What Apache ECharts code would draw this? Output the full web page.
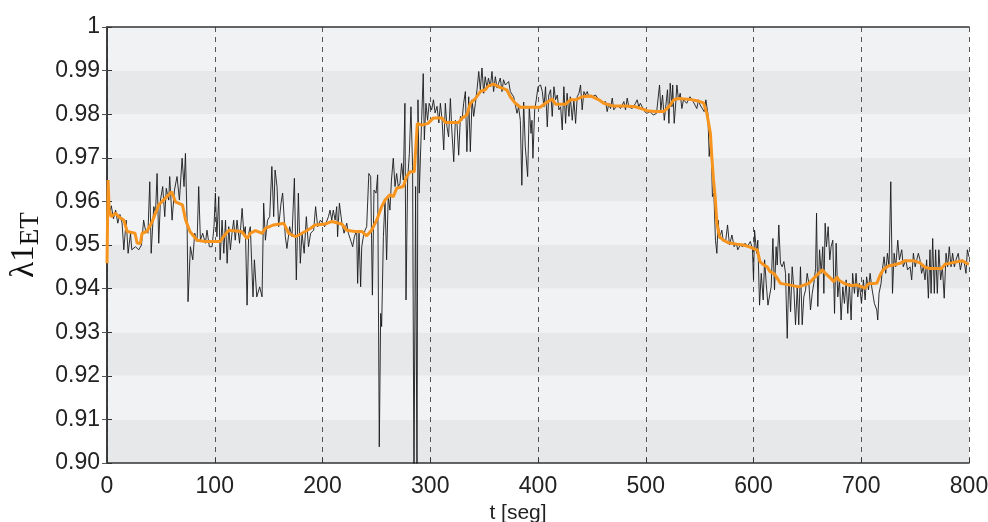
<!DOCTYPE html>
<html>
<head>
<meta charset="utf-8">
<script src="https://cdn.jsdelivr.net/npm/echarts@6/dist/echarts.min.js"></script>
<style>
  html, body { margin: 0; padding: 0; background: #fff; }
  #chart { width: 988px; height: 522px; }
</style>
</head>
<body>
<div id="chart"></div>
<script>
// x axis ticks (t [seg])
var xTicks = [0, 100, 200, 300, 400, 500, 600, 700, 800];

// raw signal per 100 s block: [t, value]
var raw000 = [[0,0.947],[1,0.964],[2,0.957],[4,0.959],[6,0.956],[8,0.958],[10,0.955],[12,0.957],[14,0.955],[15.6,0.9489],[17.8,0.9557],[19.6,0.9481],[21.8,0.9527],[23,0.9489],[26.4,0.9496],[29.5,0.9489],[32,0.95],[34,0.9557],[35.7,0.9534],[38,0.9527],[39.7,0.9645],[41,0.9481],[43.4,0.9588],[45,0.9573],[46.5,0.9664],[48,0.9504],[49.6,0.9603],[51.7,0.9634],[53.6,0.9565],[55,0.963],[57.3,0.9603],[58.2,0.9657],[60.4,0.9557],[62.6,0.9626],[65,0.9657],[67.2,0.9603],[69.7,0.9699],[71.5,0.9634],[72.8,0.971],[74.3,0.9557],[75.2,0.937],[77.4,0.9496],[79.6,0.9466],[81.4,0.9527],[83.6,0.9508],[85.1,0.9634],[86.7,0.9511],[88.8,0.9527],[91.3,0.9504],[92.8,0.9534],[95,0.9496],[97.5,0.9496],[99.3,0.9542]];
var raw100 = [[100.6,0.9619],[102,0.9519],[103.7,0.9611],[105,0.9466],[106.8,0.9557],[108.4,0.9481],[110,0.9557],[111.5,0.9458],[113,0.9542],[114.5,0.9489],[116,0.9527],[117.6,0.9557],[119,0.9511],[120.7,0.9557],[123,0.9504],[125.4,0.9584],[127,0.9527],[128.4,0.9542],[130,0.9362],[131.5,0.9527],[133,0.9542],[135.5,0.9381],[136.8,0.9466],[139,0.9381],[141.7,0.9404],[143.9,0.9381],[145.4,0.9596],[147,0.9511],[149,0.9557],[151,0.9565],[153,0.968],[154.7,0.9565],[156,0.9672],[157.8,0.9634],[159.3,0.9542],[161.5,0.9596],[163,0.9619],[165.5,0.9519],[167,0.9492],[169.5,0.9542],[171.7,0.9519],[173.9,0.9653],[175.7,0.942],[177.6,0.9619],[179.4,0.9458],[181,0.9527],[183,0.9481],[185,0.9565],[187,0.9496],[189,0.9527],[191.8,0.9534],[193.6,0.9588],[195.5,0.9542],[198,0.9557]];
var raw200 = [[200.4,0.955],[202,0.9542],[205.5,0.9565],[207,0.958],[208.6,0.9557],[210,0.958],[211.7,0.9557],[213.2,0.9588],[214,0.9519],[215.7,0.9596],[218,0.955],[220,0.9527],[222.5,0.955],[224,0.9527],[226.5,0.9508],[228,0.9496],[229.6,0.9519],[231.7,0.9534],[232.6,0.9412],[233.9,0.9527],[235.4,0.9404],[236.4,0.9496],[237.9,0.9519],[239.5,0.9534],[241,0.9542],[243,0.9664],[244.7,0.9657],[246.3,0.9385],[247.8,0.9626],[249.7,0.9619],[251.2,0.9661],[252.7,0.9037],[254,0.9343],[254.9,0.9313],[256.5,0.9519],[258,0.9603],[259.5,0.9466],[261,0.9611],[262.6,0.958],[264,0.9649],[265.7,0.9699],[267.3,0.9634],[268.8,0.9664],[270.3,0.9634],[271.9,0.9641],[273.4,0.9687],[275,0.9649],[276.5,0.9825],[277.5,0.9374],[279,0.9649],[280.6,0.971],[282.1,0.9817],[283.6,0.968],[284.9,0.8947],[286.4,0.9634],[287.7,0.8947],[288.6,0.9833],[289.8,0.9619],[292,0.9786],[293.5,0.9893],[294.5,0.9741],[296,0.9825],[297.5,0.9786],[299,0.9825]];
var raw300 = [[301.3,0.981],[303,0.9833],[304.5,0.9803],[306.3,0.9818],[308,0.978],[309.4,0.9825],[311,0.9786],[312.5,0.9718],[314,0.9825],[315.5,0.9772],[317,0.9748],[318.7,0.9836],[320,0.9764],[321.8,0.9691],[323.3,0.9786],[324.8,0.9779],[326.4,0.9706],[328,0.9795],[329.5,0.9786],[331,0.9825],[332.6,0.9852],[334,0.9714],[335.7,0.984],[337.2,0.9714],[338.8,0.9833],[340.3,0.9795],[341.9,0.9825],[343.4,0.9856],[345,0.9898],[346.5,0.9856],[348,0.9906],[349.6,0.9848],[351,0.9886],[352.7,0.986],[354,0.9883],[355.8,0.9863],[357.3,0.9898],[358.8,0.9852],[360.4,0.9886],[362,0.986],[363.5,0.9871],[365,0.9883],[366.6,0.9852],[368,0.9879],[369.7,0.9867],[371,0.9863],[372.8,0.9875],[374.3,0.9852],[375.8,0.9856],[377.4,0.984],[379,0.9821],[380.5,0.9802],[382,0.9817],[383.6,0.9786],[385,0.9637],[386.7,0.9828],[388.2,0.9725],[390.4,0.9657],[391.9,0.9817],[393.5,0.9756],[394.4,0.9786],[395.3,0.9699],[396.9,0.981],[398.4,0.9833]];
var raw400 = [[400,0.9863],[402.4,0.9867],[404,0.9852],[405.5,0.9817],[407,0.9863],[408.6,0.9771],[410,0.9844],[411.7,0.9856],[413.2,0.9795],[414.8,0.9863],[416.3,0.9833],[417.9,0.9844],[419.4,0.981],[421,0.9817],[422.5,0.9764],[424,0.9863],[425.6,0.9779],[427,0.9848],[428.7,0.9795],[430,0.984],[431.8,0.9786],[433.3,0.9833],[434.9,0.9779],[436.4,0.984],[438,0.9848],[439.5,0.9867],[441,0.981],[442.6,0.9852],[444,0.9844],[445.7,0.9852],[447.2,0.984],[448.8,0.9844],[450.3,0.984],[451.9,0.9837],[453.4,0.9844],[456.5,0.9833],[459.6,0.9825],[462.7,0.9829],[464.2,0.9806],[465.8,0.9825],[467.3,0.9813],[468.9,0.9837],[470.4,0.981],[473.5,0.9821],[476.6,0.9813],[479.7,0.9829],[481.2,0.981],[482.8,0.9837],[484.3,0.9817],[487.4,0.9813],[490.5,0.9825],[492,0.9833],[493.6,0.9817],[495,0.9825],[496.7,0.9817],[499,0.9806]];
var raw500 = [[501,0.9802],[504,0.9806],[507,0.9798],[510,0.9802],[512.8,0.9867],[514,0.981],[515.6,0.9844],[517.2,0.9786],[518.7,0.9821],[520.2,0.9856],[521.5,0.9779],[522.7,0.9871],[524.3,0.9817],[525,0.9867],[526.4,0.9779],[527.7,0.9821],[528.9,0.9867],[530.4,0.9833],[532,0.9848],[533.5,0.9813],[535,0.9833],[538,0.9825],[541,0.984],[544,0.9829],[547.4,0.9813],[549,0.9833],[550.5,0.9821],[552,0.9825],[554.2,0.9806],[555.8,0.9833],[557.6,0.9802],[558.9,0.9703],[560.4,0.9752],[561.9,0.9611],[563.2,0.9619],[564.7,0.9511],[566,0.9481],[567.2,0.9557],[568.4,0.9515],[570.6,0.9534],[572,0.9508],[574.3,0.9511],[575.9,0.9546],[577.7,0.95],[580,0.9523],[582,0.9496],[584,0.9504],[585.4,0.9489],[587.6,0.95],[590,0.9496],[592.2,0.9504],[594.4,0.9496],[597,0.9508],[599,0.9492]];
var raw600 = [[600,0.942],[601,0.9534],[602.9,0.9481],[604,0.9511],[605.6,0.9362],[607.2,0.9435],[609,0.9374],[610.3,0.9466],[611.8,0.9412],[613.4,0.9362],[614.9,0.9366],[616.4,0.9404],[618,0.9515],[619.5,0.9397],[621,0.9496],[622,0.9454],[623.5,0.9546],[625,0.9458],[626.6,0.945],[628.2,0.9462],[629.7,0.9435],[631.3,0.9286],[632.8,0.9435],[634.4,0.9347],[635.9,0.945],[637.5,0.9397],[639,0.9317],[640.6,0.9404],[642,0.9317],[643.6,0.945],[645.2,0.9317],[646.7,0.9381],[648.3,0.9397],[649.8,0.9435],[651.4,0.9412],[652.9,0.9351],[654.5,0.9389],[656,0.9412],[657.6,0.9446],[658.5,0.9573],[659.7,0.9359],[661.3,0.9489],[662.8,0.9435],[664.3,0.9496],[665.3,0.9389],[666.5,0.955],[667.7,0.9496],[669.3,0.9542],[670.8,0.9466],[672,0.9496],[673.6,0.9511],[675.2,0.9343],[676.7,0.9504],[678.2,0.9381],[679.8,0.942],[681.3,0.9328],[682.9,0.9404],[684.4,0.9366],[686,0.942],[687.5,0.9343],[689,0.9412],[690.6,0.9328],[692,0.9435],[693.7,0.9389],[695.2,0.9435],[696.8,0.9381],[698.3,0.9412]];
var raw700 = [[700.2,0.9366],[702,0.942],[703.6,0.9374],[705,0.9427],[706.7,0.9397],[708.2,0.9435],[709.7,0.9404],[712.2,0.9366],[714.4,0.9351],[715.3,0.9328],[716.5,0.9389],[718.4,0.9412],[719.6,0.9443],[721.2,0.9473],[722.7,0.9435],[724.3,0.9481],[725.8,0.945],[727.4,0.9645],[729,0.9389],[730.5,0.9481],[732,0.945],[733.9,0.9511],[735.4,0.9466],[737.6,0.9489],[739,0.945],[741.3,0.9466],[743,0.9443],[745.3,0.945],[746.8,0.942],[748.4,0.9481],[750,0.945],[751.5,0.9466],[753,0.9481],[754.5,0.9466],[756,0.9435],[757.6,0.945],[759.2,0.942],[760.7,0.9466],[762.3,0.9378],[763.8,0.9489],[764.8,0.9389],[766.3,0.9515],[767.8,0.9389],[769,0.9489],[770.6,0.9389],[772,0.9489],[773.7,0.942],[775.3,0.945],[777,0.9378],[778.7,0.9481],[780.2,0.945],[781.7,0.9496],[783.3,0.945],[784.8,0.9481],[786.4,0.945],[787.9,0.9466],[790,0.9481],[792,0.9443],[793.8,0.9466],[795.7,0.9458],[797.2,0.9435],[798.5,0.9489],[800,0.9473]];

// smoothed signal (orange)
var smooth = [[0,0.9458],[1,0.9649],[2,0.958],[4,0.9565],[8,0.9573],[11,0.9565],[15.6,0.9557],[18.7,0.9531],[26,0.9527],[28,0.9504],[31,0.9504],[32.6,0.9527],[37,0.9531],[42,0.9554],[48,0.9592],[54,0.9607],[60,0.9622],[63.5,0.9599],[70,0.9592],[73,0.9557],[77,0.9531],[83.6,0.9511],[91,0.9508],[105,0.9508],[108,0.9519],[113,0.9534],[125,0.9531],[130,0.9515],[133,0.9527],[137.7,0.9533],[144,0.9527],[147,0.9538],[154.7,0.9546],[164,0.955],[168.6,0.9527],[175,0.9519],[181,0.9527],[188.7,0.9538],[193,0.9546],[202.6,0.9548],[208.6,0.9554],[217.8,0.9548],[222.5,0.9534],[230,0.9531],[236.4,0.9531],[241,0.9521],[245.6,0.9534],[250.3,0.9557],[254.9,0.9588],[258,0.9603],[262.6,0.9615],[265.7,0.9611],[268.8,0.963],[275,0.9634],[278,0.9657],[281.2,0.9668],[285.2,0.9668],[288,0.9779],[292,0.9775],[298,0.9779],[302.8,0.9791],[311,0.9791],[314,0.9781],[326.4,0.9781],[329.5,0.9791],[334,0.9798],[337.2,0.9825],[341.9,0.9836],[346.5,0.9852],[351,0.9856],[354,0.9865],[358.8,0.9869],[363.5,0.9863],[371,0.9856],[374.3,0.984],[379,0.9825],[383.6,0.9816],[402,0.9816],[407,0.9825],[413,0.9835],[416.3,0.9823],[425.6,0.9823],[430,0.9833],[434.9,0.9833],[441,0.984],[448.8,0.9842],[456.5,0.9833],[461,0.9825],[469,0.9819],[481,0.9819],[490.5,0.9817],[498,0.9811],[501,0.9808],[508.8,0.9806],[516.5,0.9806],[521.2,0.9816],[526,0.9833],[530.4,0.9836],[541,0.9834],[547.4,0.9831],[553.6,0.9826],[556.7,0.9802],[560,0.9756],[561.3,0.9703],[562.9,0.9649],[564.4,0.9611],[566,0.955],[568.4,0.9519],[572,0.9511],[576.8,0.9505],[584.5,0.9502],[590.7,0.95],[596.9,0.9495],[601.5,0.949],[603.5,0.9489],[606,0.9462],[609.7,0.9454],[612.7,0.945],[615.2,0.9439],[618.9,0.9435],[622,0.9424],[625,0.9412],[634.4,0.9408],[642,0.9404],[646.7,0.9408],[651.4,0.9412],[656,0.9424],[660.6,0.9435],[663.7,0.9443],[666.8,0.9435],[671.5,0.9424],[674.5,0.9416],[677.6,0.9427],[679,0.942],[683.8,0.9412],[690,0.9407],[696,0.9408],[700.5,0.9404],[703.6,0.9401],[706.7,0.9411],[714.4,0.9412],[717.5,0.9431],[720.6,0.9444],[725.2,0.9452],[729.8,0.9454],[736,0.9458],[740.7,0.9464],[748.4,0.9464],[754.5,0.9459],[759,0.9449],[763.8,0.9446],[774.6,0.9446],[777.7,0.9456],[783.9,0.9459],[790,0.9462],[793.8,0.9464],[797.8,0.9458],[800,0.9456]];

var rawAll = [].concat(raw000, raw100, raw200, raw300, raw400, raw500, raw600, raw700);

var chart = echarts.init(document.getElementById('chart'));
var labelFont = { color: '#222', fontSize: 23, fontFamily: 'Liberation Sans, Arial, sans-serif' };

var option = {
    animation: false,
    grid: { left: 107, right: 19, top: 27, bottom: 59, outerBoundsMode: 'none', containLabel: false },
    xAxis: [{
        type: 'value',
        min: xTicks[0],
        max: xTicks[xTicks.length - 1],
        interval: 100,
        name: 't [seg]',
        nameLocation: 'middle',
        nameGap: 37,
        nameTextStyle: { color: '#222', fontSize: 21, fontFamily: 'Liberation Sans, Arial, sans-serif', padding: [0, 40, 0, 0] },
        axisLine: { lineStyle: { color: '#333', width: 1.5 } },
        axisTick: { inside: true, length: 5, lineStyle: { color: '#333' } },
        axisLabel: Object.assign({ margin: 12 }, labelFont),
        splitLine: { show: true, lineStyle: { color: '#555', type: [5, 5], width: 1 } }
    }, {
        type: 'value',
        position: 'top',
        min: 0, max: 800, interval: 100,
        axisLine: { lineStyle: { color: '#333', width: 1.5 } },
        axisTick: { show: false },
        axisLabel: { show: false },
        splitLine: { show: false }
    }],
    yAxis: [{
        type: 'value',
        min: 0.9,
        max: 1,
        interval: 0.01,
        name: '{a|λ1}{b|ET}',
        nameLocation: 'middle',
        nameRotate: 90,
        nameGap: 62,
        nameTextStyle: {
            rich: {
                a: { fontFamily: 'Liberation Serif, DejaVu Serif, serif', fontSize: 33, color: '#111', lineHeight: 34 },
                b: { fontFamily: 'Liberation Serif, DejaVu Serif, serif', fontSize: 27, color: '#111', lineHeight: 27, padding: [14, 0, 0, 0] }
            }
        },
        axisLine: { show: true, lineStyle: { color: '#333', width: 1.5 } },
        axisTick: { show: true, inside: true, length: 5, lineStyle: { color: '#333' } },
        axisLabel: Object.assign({
            margin: 7,
            formatter: function (v) { return v > 0.9999 ? '1' : v.toFixed(2); }
        }, labelFont),
        splitLine: { show: false },
        splitArea: { show: true, areaStyle: { color: ['#e7e8ea', '#f1f2f4'] } }
    }, {
        type: 'value',
        position: 'right',
        min: 0.9, max: 1, interval: 0.01,
        axisLine: { show: true, lineStyle: { color: '#333', width: 1.5 } },
        axisTick: { show: true, inside: true, length: 5, lineStyle: { color: '#555' } },
        axisLabel: { show: false },
        splitLine: { show: false }
    }],
    series: [{
        name: 'raw',
        type: 'line',
        data: rawAll,
        showSymbol: false,
        clip: true,
        lineStyle: { color: '#1a1a1a', width: 0.9 },
        z: 2
    }, {
        name: 'smooth',
        type: 'line',
        data: smooth,
        showSymbol: false,
        clip: true,
        lineStyle: { color: '#f7941d', width: 3 },
        z: 3
    }]
};

chart.setOption(option);
</script>
</body>
</html>
